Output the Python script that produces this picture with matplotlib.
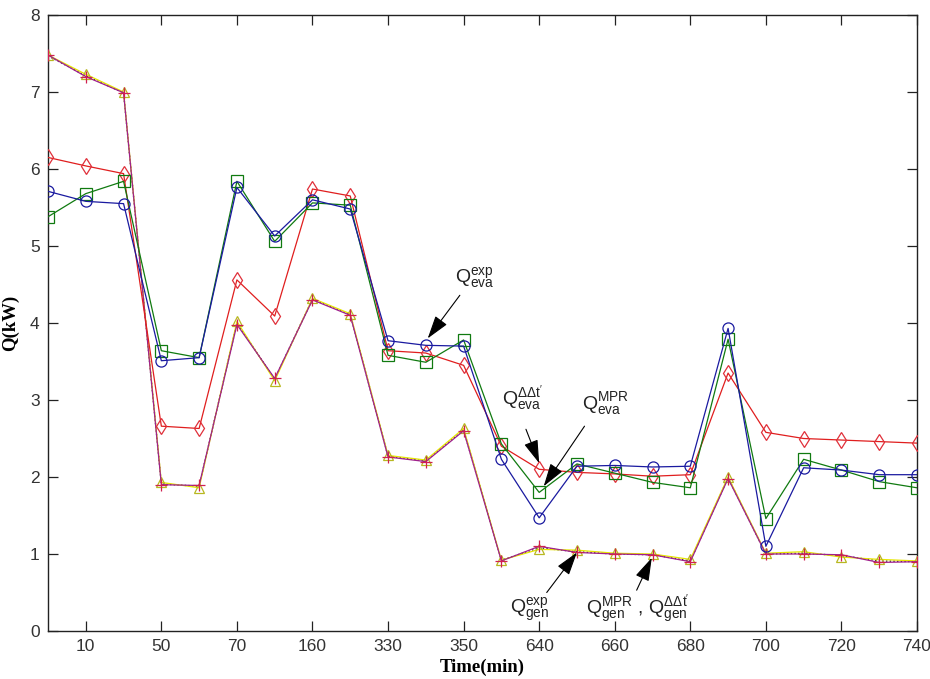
import matplotlib
matplotlib.use("Agg")
import matplotlib.pyplot as plt
from matplotlib import font_manager

# ---- data -------------------------------------------------------------
time_labels = ["10", "50", "70", "160", "330", "350", "640", "660", "680", "700", "720", "740"]

q_eva_exp = [5.71, 5.58, 5.55, 3.51, 3.55, 5.76, 5.13, 5.60, 5.48, 3.77, 3.71, 3.70,
             2.23, 1.47, 2.14, 2.15, 2.13, 2.14, 3.93, 1.10, 2.12, 2.09, 2.03, 2.03]
q_eva_mpr = [5.38, 5.68, 5.84, 3.64, 3.55, 5.84, 5.06, 5.56, 5.53, 3.58, 3.49, 3.78,
             2.43, 1.80, 2.17, 2.05, 1.93, 1.86, 3.79, 1.46, 2.23, 2.09, 1.94, 1.86]
q_eva_ddt = [6.15, 6.04, 5.94, 2.66, 2.63, 4.56, 4.09, 5.74, 5.65, 3.64, 3.61, 3.45,
             2.40, 2.10, 2.06, 2.04, 2.01, 2.03, 3.35, 2.58, 2.50, 2.48, 2.46, 2.44]

q_gen_exp = [7.48, 7.23, 7.00, 1.93, 1.86, 4.02, 3.25, 4.32, 4.12, 2.28, 2.22, 2.63,
             0.92, 1.06, 1.05, 1.01, 1.00, 0.93, 2.00, 1.01, 1.03, 0.96, 0.93, 0.91]
q_gen_mpr = [7.48, 7.20, 6.99, 1.90, 1.89, 3.98, 3.28, 4.30, 4.10, 2.26, 2.20, 2.60,
             0.91, 1.10, 1.02, 1.00, 0.99, 0.90, 1.98, 1.00, 1.00, 0.99, 0.89, 0.90]
q_gen_ddt = [7.47, 7.21, 6.99, 1.91, 1.88, 4.00, 3.27, 4.31, 4.11, 2.27, 2.21, 2.61,
             0.92, 1.08, 1.03, 1.00, 0.99, 0.91, 1.99, 1.00, 1.01, 0.98, 0.91, 0.90]

# ---- fonts ------------------------------------------------------------
names = {f.name for f in font_manager.fontManager.ttflist}
sans = "Liberation Sans Narrow" if "Liberation Sans Narrow" in names else "Liberation Sans"
serif = "Liberation Serif"
plt.rcParams["font.family"] = [sans, "DejaVu Sans"]
plt.rcParams["mathtext.default"] = "regular"

fig = plt.figure(figsize=(9.3, 6.79), dpi=100)
ax = fig.add_axes([48 / 930, 1 - 631 / 679, (917 - 48) / 930, (631 - 15) / 679])

x = list(range(len(q_eva_exp)))

lw = 0.9
# generator heat
ax.plot(x, q_gen_ddt, color="#303030", ls=":", lw=1.0, zorder=3)
ax.plot(x, q_gen_exp, color="#e6e600", ls="-", lw=lw, marker="^", ms=7,
        mfc="none", mec="#b8b820", mew=0.9, zorder=3)
ax.plot(x, q_gen_mpr, color="#a0208c", ls="-", lw=lw, marker="+", ms=8,
        mec="#d02050", mew=0.9, zorder=4)
# evaporator heat
ax.plot(x, q_eva_ddt, color="#e01e1e", ls="-", lw=lw, marker="d", ms=8.5,
        mfc="none", mec="#e0303a", mew=0.9, zorder=5)
ax.plot(x, q_eva_mpr, color="#107a10", ls="-", lw=lw, marker="s", ms=8.5,
        mfc="none", mec="#107a10", mew=0.9, zorder=6)
ax.plot(x, q_eva_exp, color="#1a1aa0", ls="-", lw=lw, marker="o", ms=8,
        mfc="none", mec="#1a1aa0", mew=0.9, zorder=7)

ax.set_xlim(0, len(x) - 1)
ax.set_ylim(0, 8)
ax.set_xticks(range(1, len(x), 2))
ax.set_xticklabels(time_labels)
ax.set_yticks(range(0, 9))

ax.tick_params(direction="in", top=True, right=True, length=7, width=0.9,
               labelsize=12.5, colors="#222222", labelcolor="#333333", pad=6)
for s in ax.spines.values():
    s.set_linewidth(1.0)
    s.set_color("#222222")

ax.set_xlabel("Time(min)", family=serif, fontsize=13.5, fontweight="bold", labelpad=3)
ax.set_ylabel("Q(kW)", family=serif, fontsize=13.5, fontweight="bold", labelpad=8)

# ---- annotations --------------------------------------------------------
arrow = dict(arrowstyle="-|>,head_length=0.9,head_width=0.28", color="black",
             lw=0.8, mutation_scale=16, shrinkA=0, shrinkB=0)
tsize = 14

def note(txt, xy, xytext, tpos):
    ax.annotate("", xy=xy, xytext=xytext, xycoords="data", textcoords="data",
                arrowprops=arrow, zorder=10)
    ax.text(tpos[0], tpos[1], txt, fontsize=tsize, ha="center", va="center",
            color="#222222", zorder=10)

note(r"$Q_{eva}^{exp}$", (10.05, 3.80), (10.9, 4.36), (11.3, 4.58))
note(r"$Q_{eva}^{\Delta\Delta t'}$", (13.0, 2.18), (12.65, 2.62), (12.55, 3.02))
note(r"$Q_{eva}^{MPR}$", (13.12, 1.88), (14.2, 2.66), (14.75, 2.95))
note(r"$Q_{gen}^{exp}$", (14.0, 1.02), (13.2, 0.50), (12.75, 0.28))
note(r"$Q_{gen}^{MPR}$ , $Q_{gen}^{\Delta\Delta t'}$", (15.98, 0.95), (15.58, 0.53), (15.6, 0.28))

fig.savefig("out.png", dpi=100)
